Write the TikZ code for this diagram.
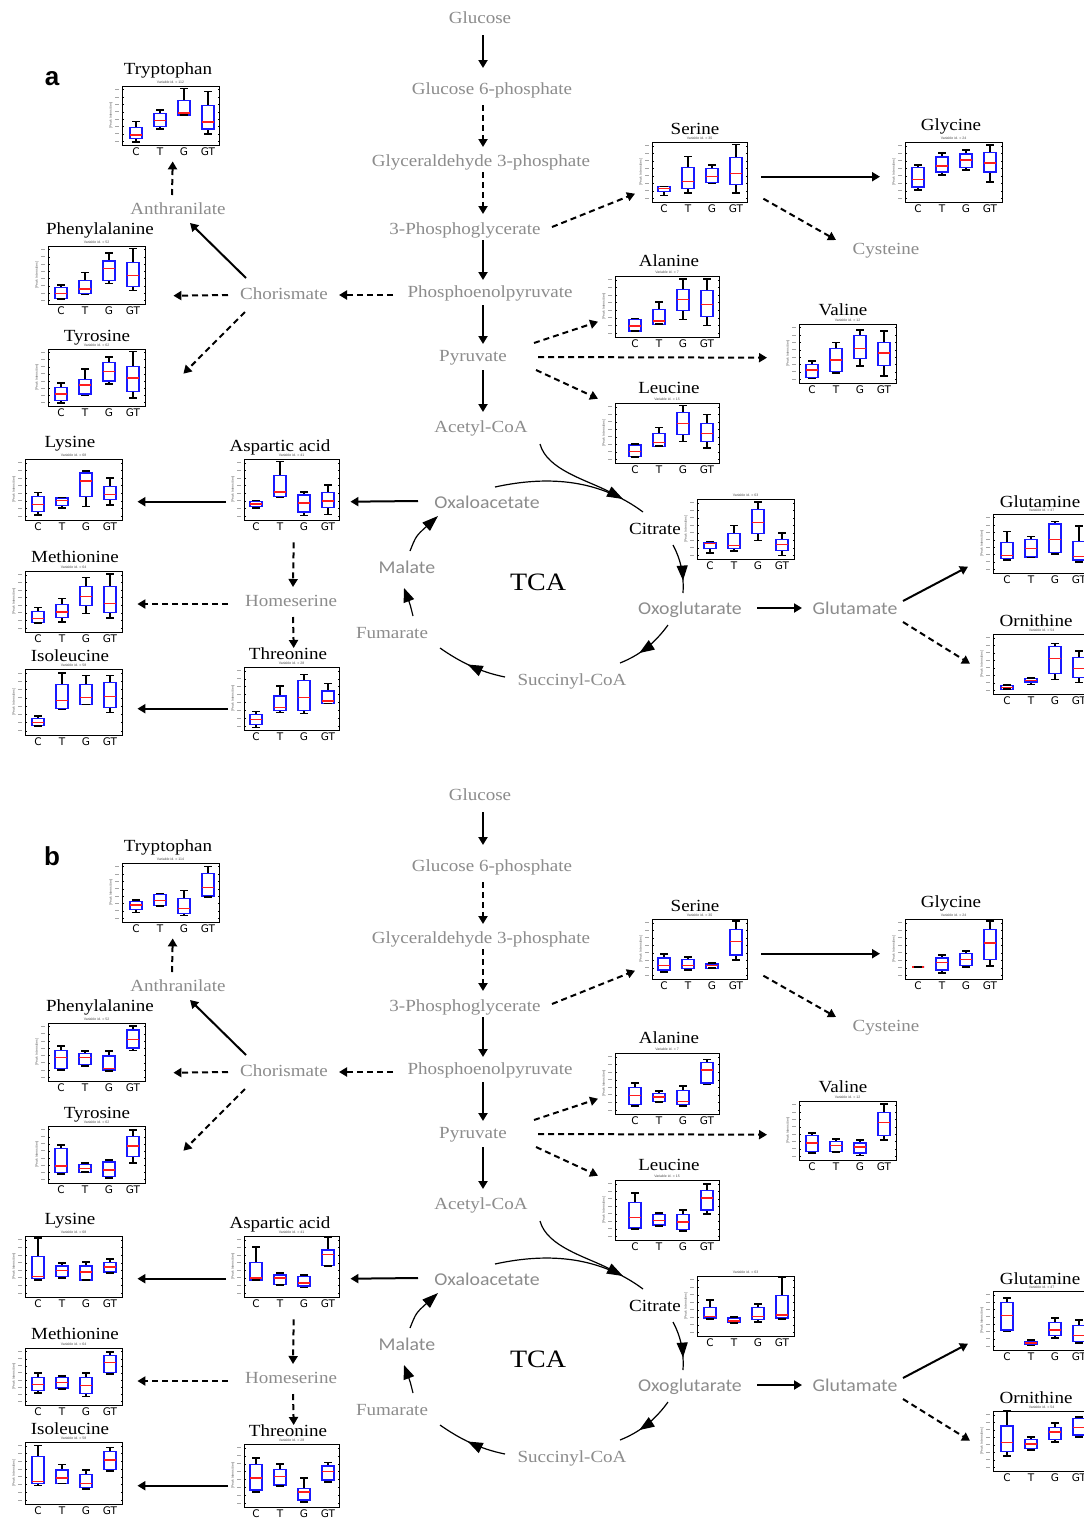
\documentclass[tikz,border=0pt]{standalone}
\usepackage{fontspec}
\setmainfont{Liberation Serif}
\newfontfamily\labfont[FakeStretch=1.12]{Liberation Serif}
\newfontfamily\labsans[FakeStretch=1.1]{Carlito}
\newfontfamily\axfont{DejaVu Sans}
\newfontfamily\helv{Liberation Sans}
\usetikzlibrary{arrows.meta,calc,decorations.markings}
\definecolor{labgray}{RGB}{140,140,140}
\definecolor{boxblue}{RGB}{25,25,255}
\definecolor{medred}{RGB}{255,30,30}
\tikzset{
  met/.style={font={\labfont\fontsize{17}{20}\selectfont}, text=labgray, inner sep=0pt, text height=16pt, text depth=3pt},
  mets/.style={font={\labsans\fontsize{18}{20}\selectfont}, text=labgray, inner sep=0pt, text height=16pt, text depth=3pt},
  ttl/.style={font={\labfont\fontsize{17}{20}\selectfont}, text=black, inner sep=0pt, text height=16pt, text depth=3pt},
  tcal/.style={font={\labfont\fontsize{25}{28}\selectfont}, text=black, inner sep=0pt},
  panlab/.style={font={\helv\bfseries\fontsize{26}{28}\selectfont}, inner sep=0pt},
  arr/.style={line width=2pt, -{Triangle[length=8pt,width=9pt]}},
  darr/.style={arr, dash pattern=on 6pt off 4pt},
  tca/.style={line width=1.2pt},
  tcamid/.style={postaction={decorate}, decoration={markings, mark=at position #1 with {\arrow{Triangle[length=15pt,width=11pt]}}}},
  chartframe/.style={draw, line width=1.4pt, inner sep=0pt},
  tickl/.style={line width=1pt, black!35},
  tickm/.style={line width=.4pt, black},
  ylab/.style={font={\helv\fontsize{3.5}{4}\selectfont}, text=black!60, rotate=90, inner sep=0pt},
  vid/.style={font={\helv\fontsize{3.5}{4}\selectfont}, text=black!70, inner sep=0pt},
  axl/.style={font={\axfont\fontsize{10.5}{11}\selectfont}, inner sep=0pt},
  whisk/.style={line width=1.5pt, black},
  bbox/.style={line width=1.2pt, boxblue},
  medl/.style={line width=1.3pt, medred}
}
% #1 name, #2 L, #3 T, #4 R, #5 B, #6 first box centre, #7 id, #8 data
\newcommand{\boxchart}[8]{%
  \pgfmathsetmacro\bpw{#4-#2}%
  \pgfmathsetmacro\bph{#5-#3}%
  \edef\bpdata{#8}%
  \node[chartframe, minimum width={\bpw*1pt}, minimum height={\bph*1pt}, anchor=north west] (#1) at (#2,#3) {};
  \foreach \ti in {1,...,8}{%
    \pgfmathsetmacro\bpty{#5-(\ti-0.5)*\bph/8}%
    \draw[tickl] ({#2-7},\bpty) -- ({#2-3},\bpty);
    \draw[tickm] (#2,\bpty) -- ({#2+1.5},\bpty);
    \draw[tickm] (#4,\bpty) -- ({#4-1.5},\bpty);
  }
  \node[ylab] (#1yl) at ({#2-11},{(#3+#5)/2}) {[Peak Intensities]};
  \node[vid] (#1vid) at ({(#2+#4)/2},{#3-3.5}) {Variable id. = #7};
  \foreach \pA/\pB/\pC/\pD/\pE [count=\k from 0] in \bpdata {%
    \pgfmathsetmacro\xx{#6+24*\k}%
    \pgfmathsetmacro\yA{#5-\pA*\bph}%
    \pgfmathsetmacro\yB{#5-\pB*\bph}%
    \pgfmathsetmacro\yC{#5-\pC*\bph}%
    \pgfmathsetmacro\yD{#5-\pD*\bph}%
    \pgfmathsetmacro\yE{#5-\pE*\bph}%
    \draw[whisk] (\xx,\yA) -- (\xx,\yB);
    \draw[whisk] (\xx,\yD) -- (\xx,\yE);
    \draw[bbox] ({\xx-6},\yB) rectangle ({\xx+6},\yD);
    \draw[medl] ({\xx-6},\yC) -- ({\xx+6},\yC);
    \draw[whisk] ({\xx-4},\yA) -- ({\xx+4},\yA);
    \draw[whisk] ({\xx-4},\yE) -- ({\xx+4},\yE);
    \node[axl] (#1l\k) at (\xx,{#5+7}) {\ifcase\k C\or T\or G\or GT\fi};
  }%
}
% panel a data
\def\Datrp{.05/.11/.17/.30/.40, .27/.31/.42/.54/.59, .51/.51/.54/.75/.96, .19/.27/.39/.67/.91}
\def\Daser{.11/.17/.23/.26/.26, .15/.22/.34/.58/.76, .31/.33/.42/.56/.62, .15/.29/.48/.74/.96}
\def\Dagly{.20/.25/.37/.57/.62, .45/.50/.60/.75/.82, .53/.57/.70/.80/.87, .33/.50/.65/.83/.95}
\def\Daphe{.09/.09/.18/.28/.33, .16/.18/.26/.40/.54, .35/.40/.61/.74/.88, .23/.30/.49/.72/.96}
\def\Datyr{.05/.09/.21/.32/.40, .18/.21/.37/.47/.65, .39/.44/.60/.77/.86, .14/.26/.49/.70/.96}
\def\Daala{.10/.10/.18/.29/.30, .21/.21/.26/.45/.57, .29/.44/.62/.78/.95, .19/.33/.53/.76/.95}
\def\Daval{.08/.10/.22/.31/.37, .17/.20/.39/.58/.69, .29/.42/.59/.80/.90, .12/.29/.51/.69/.88}
\def\Daleu{.10/.11/.19/.30/.32, .28/.28/.34/.49/.59, .36/.47/.66/.84/.96, .25/.36/.49/.66/.81}
\def\Dalys{.08/.14/.25/.38/.45, .20/.24/.32/.36/.37, .22/.38/.64/.77/.80, .25/.33/.42/.55/.69}
\def\Damet{.15/.15/.22/.34/.40, .16/.24/.33/.45/.55, .30/.43/.58/.74/.89, .23/.32/.47/.74/.95}
\def\Daile{.14/.14/.19/.25/.29, .39/.40/.52/.77/.94, .46/.46/.57/.77/.90, .34/.42/.58/.79/.90}
\def\Daasp{.20/.22/.26/.30/.32, .37/.38/.46/.73/.96, .07/.13/.28/.41/.46, .09/.20/.31/.45/.57}
\def\Dathr{.04/.09/.17/.24/.29, .28/.31/.36/.54/.70, .26/.31/.52/.78/.88, .42/.42/.46/.62/.74}
\def\Dacitc{.10/.17/.26/.28/.29, .13/.17/.23/.42/.56, .31/.42/.61/.83/.95, .06/.14/.24/.33/.43}
\def\Dagln{.22/.24/.30/.52/.70, .26/.27/.42/.57/.62, .32/.35/.57/.83/.87, .19/.22/.28/.54/.80}
\def\Daorn{.08/.08/.11/.14/.15, .16/.20/.23/.26/.27, .24/.34/.59/.79/.84, .19/.28/.42/.61/.72}
% panel b data
\def\Dbtrp{.16/.21/.29/.35/.37, .27/.28/.37/.46/.48, .11/.15/.23/.40/.53, .42/.44/.58/.82/.94}
\def\Dbser{.12/.15/.23/.35/.42, .15/.17/.23/.32/.37, .18/.18/.22/.25/.27, .32/.40/.62/.82/.97}
\def\Dbgly{.20/.20/.20/.20/.20, .10/.15/.27/.35/.40, .20/.22/.33/.43/.47, .22/.32/.60/.83/.97}
\def\Dbphe{.19/.22/.40/.53/.60, .26/.29/.40/.47/.52, .17/.19/.22/.43/.52, .53/.57/.71/.88/.95}
\def\Dbtyr{.16/.18/.30/.61/.67, .19/.19/.26/.32/.35, .09/.12/.23/.37/.40, .35/.46/.65/.82/.93}
\def\Dbala{.13/.16/.30/.43/.51, .20/.21/.28/.34/.38, .13/.16/.21/.39/.46, .48/.51/.72/.84/.89}
\def\Dbval{.12/.14/.29/.42/.46, .14/.15/.25/.32/.36, .08/.12/.22/.29/.34, .34/.42/.64/.81/.95}
\def\Dbleu{.18/.20/.37/.63/.78, .23/.25/.33/.42/.45, .15/.18/.30/.43/.50, .43/.50/.70/.83/.93}
\def\Dblys{.28/.31/.34/.66/.97, .31/.34/.44/.51/.56, .28/.28/.41/.51/.57, .39/.41/.49/.57/.62}
\def\Dbmet{.21/.25/.36/.48/.56, .28/.30/.39/.48/.51, .15/.20/.34/.48/.56, .54/.57/.75/.87/.93}
\def\Dbile{.30/.33/.36/.76/.94, .33/.33/.42/.55/.64, .24/.27/.33/.48/.55, .53/.56/.71/.85/.91}
\def\Dbasp{.28/.28/.31/.57/.82, .20/.21/.31/.36/.39, .16/.18/.23/.33/.36, .51/.52/.70/.77/.98}
\def\Dbthr{.24/.27/.46/.67/.78, .33/.35/.48/.59/.68, .08/.11/.24/.30/.46, .40/.43/.56/.65/.71}
\def\Dbcitc{.28/.30/.33/.48/.60, .22/.22/.25/.30/.32, .23/.27/.33/.48/.53, .28/.30/.35/.67/.98}
\def\Dbgln{.31/.34/.58/.81/.88, .08/.10/.12/.15/.17, .20/.24/.34/.46/.54, .12/.15/.25/.41/.51}
\def\Dborn{.25/.32/.48/.75/1.0, .35/.38/.45/.52/.57, .48/.52/.65/.72/.80, .57/.60/.73/.87/.90}
% per-panel positions of the Methionine / Isoleucine charts
\def\Yametb{632}\def\Ybmetb{628}
\def\Yailet{669}\def\Ybilet{665}
\def\Yaileb{735}\def\Ybileb{727}
\def\Yailett{655}\def\Ybilett{651}

\newcommand{\drawpanel}[2]{%
  % metabolites
  \node[met] (#1glc) at (480,17) {Glucose};
  \node[met] (#1g6p) at (492,88) {Glucose 6-phosphate};
  \node[met] (#1gap) at (481,160) {Glyceraldehyde 3-phosphate};
  \node[met] (#1pga) at (465,228) {3-Phosphoglycerate};
  \node[met] (#1pep) at (490,291) {Phosphoenolpyruvate};
  \node[met] (#1pyr) at (473,355) {Pyruvate};
  \node[met] (#1aca) at (481,426) {Acetyl-CoA};
  \node[met] (#1cys) at (886,248) {Cysteine};
  \node[met] (#1cho) at (284,293) {Chorismate};
  \node[met] (#1ant) at (178,208) {Anthranilate};
  \node[mets] (#1oaa) at (487,502) {Oxaloacetate};
  \node[met] (#1hom) at (291,600) {Homeserine};
  \node[ttl] (#1cit) at (655,528) {Citrate};
  \node[mets] (#1oxo) at (690,608) {Oxoglutarate};
  \node[mets] (#1glu) at (855,608) {Glutamate};
  \node[met] (#1suc) at (572,679) {Succinyl-CoA};
  \node[met] (#1fum) at (392,632) {Fumarate};
  \node[mets] (#1mal) at (407,567) {Malate};
  \node[tcal] (#1tca) at (538,582) {TCA};
  % charts
  \boxchart{#1trp}{122}{86}{219}{145}{136}{#2}{\csname D#1trp\endcsname}
  \boxchart{#1ser}{652}{142}{747}{202}{664}{30}{\csname D#1ser\endcsname}
  \boxchart{#1gly}{905}{142}{1002}{202}{918}{24}{\csname D#1gly\endcsname}
  \boxchart{#1phe}{48}{246}{145}{304}{61}{52}{\csname D#1phe\endcsname}
  \boxchart{#1tyr}{48}{349}{145}{406}{61}{62}{\csname D#1tyr\endcsname}
  \boxchart{#1ala}{615}{276}{719}{337}{635}{7}{\csname D#1ala\endcsname}
  \boxchart{#1val}{799}{324}{896}{383}{812}{12}{\csname D#1val\endcsname}
  \boxchart{#1leu}{615}{403}{719}{463}{635}{15}{\csname D#1leu\endcsname}
  \boxchart{#1lys}{25}{459}{122}{520}{38}{68}{\csname D#1lys\endcsname}
  \boxchart{#1met}{25}{571}{122}{\csname Y#1metb\endcsname}{38}{64}{\csname D#1met\endcsname}
  \boxchart{#1ile}{25}{\csname Y#1ilet\endcsname}{122}{\csname Y#1ileb\endcsname}{38}{58}{\csname D#1ile\endcsname}
  \boxchart{#1asp}{244}{459}{339}{520}{256}{41}{\csname D#1asp\endcsname}
  \boxchart{#1thr}{244}{667}{339}{730}{256}{28}{\csname D#1thr\endcsname}
  \boxchart{#1citc}{697}{499}{794}{559}{710}{63}{\csname D#1citc\endcsname}
  \boxchart{#1gln}{993}{514}{1090}{573}{1007}{47}{\csname D#1gln\endcsname}
  \boxchart{#1orn}{993}{634}{1090}{694}{1007}{54}{\csname D#1orn\endcsname}
  % chart titles
  \node[ttl] (#1trpT) at (168,68) {Tryptophan};
  \node[ttl] (#1serT) at (695,128) {Serine};
  \node[ttl] (#1glyT) at (951,124) {Glycine};
  \node[ttl] (#1pheT) at (100,228) {Phenylalanine};
  \node[ttl] (#1tyrT) at (97,335) {Tyrosine};
  \node[ttl] (#1alaT) at (669,260) {Alanine};
  \node[ttl] (#1valT) at (843,309) {Valine};
  \node[ttl] (#1leuT) at (669,387) {Leucine};
  \node[ttl] (#1lysT) at (70,441) {Lysine};
  \node[ttl] (#1metT) at (75,556) {Methionine};
  \node[ttl] (#1ileT) at (70,\csname Y#1ilett\endcsname) {Isoleucine};
  \node[ttl] (#1aspT) at (280,445) {Aspartic acid};
  \node[ttl] (#1thrT) at (288,653) {Threonine};
  \node[ttl] (#1glnT) at (1040,501) {Glutamine};
  \node[ttl] (#1ornT) at (1036,620) {Ornithine};
  % main pathway
  \draw[arr] ($(#1glc)+(3,18)$) -- ($(#1g6p)+(-9,-20)$);
  \draw[darr] ($(#1g6p)+(-9,17)$) -- ($(#1gap)+(2,-13)$);
  \draw[darr] ($(#1gap)+(2,12)$) -- ($(#1pga)+(18,-14)$);
  \draw[arr] ($(#1pga)+(18,12)$) -- ($(#1pep)+(-7,-11)$);
  \draw[arr] ($(#1pep)+(-7,14)$) -- ($(#1pyr)+(10,-11)$);
  \draw[arr] ($(#1pyr)+(10,15)$) -- ($(#1aca)+(2,-14)$);
  \draw[darr] ($(#1pga)+(87,-1)$) -- ($(#1ser.west)+(-17,21)$);
  \draw[arr] ($(#1ser.east)+(13,4)$) -- ($(#1gly.west)+(-25,4)$);
  \draw[darr] ($(#1ser.east)+(15,26)$) -- ($(#1cys)+(-50,-8)$);
  \draw[darr] ($(#1pyr)+(61,-12)$) -- ($(#1ala.west)+(-17,14.5)$);
  \draw[darr] ($(#1pyr)+(65,2)$) -- ($(#1val.west)+(-32,3.5)$);
  \draw[darr] ($(#1pyr)+(63,15)$) -- ($(#1leu.west)+(-17,-35)$);
  \draw[darr] ($(#1pep)+(-97,4)$) -- ($(#1cho)+(55,2)$);
  \draw[darr] ($(#1cho)+(-56,2)$) -- ($(#1phe.east)+(27,20)$);
  \draw[arr] ($(#1cho)+(-38,-15)$) -- ($(#1ant)+(12,15)$);
  \draw[darr] ($(#1ant)+(-6,-13)$) -- ($(#1trp.south)+(1.5,15)$);
  \draw[darr] ($(#1cho)+(-39,19)$) -- ($(#1tyr.east)+(37,-4.5)$);
  \draw[arr] ($(#1oaa)+(-69,-1)$) -- ($(#1asp.east)+(10,11.5)$);
  \draw[arr] ($(#1asp.west)+(-18,11.5)$) -- ($(#1lys.east)+(14,11.5)$);
  \draw[darr] ($(#1asp.south)+(1.5,21)$) -- ($(#1hom)+(2,-13)$);
  \draw[darr] ($(#1hom)+(-63,4)$) -- ($(#1met.east|-#1hom)+(14,4)$);
  \draw[darr] ($(#1hom)+(2,17)$) -- ($(#1thr.north)+(1.5,-19)$);
  \draw[arr] ($(#1thr.west)+(-16,9.5)$) -- ($(#1ile.east|-#1thr.west)+(14,9.5)$);
  \draw[arr] ($(#1oxo)+(67,0)$) -- ($(#1glu)+(-53,0)$);
  \draw[arr] ($(#1glu)+(48,-7)$) -- ($(#1gln.west)+(-25,22.5)$);
  \draw[darr] ($(#1glu)+(48,14)$) -- ($(#1orn.west)+(-23,-1)$);
  % TCA cycle
  \draw[tca] ($(#1oaa)+(8,-15)$) .. controls ($(#1tca)+(12,-107)$) and ($(#1tca)+(62,-102)$) .. ($(#1cit)+(-12,-16)$);
  \draw[tca,-{Triangle[length=16pt,width=11pt]}] ($(#1aca)+(59,18)$) .. controls ($(#1tca)+(9,-112)$) and ($(#1tca)+(49,-102)$) .. ($(#1cit)+(-32,-29)$);
  \draw[tca,tcamid=.75] ($(#1cit)+(18,17)$) .. controls ($(#1tca)+(143,-22)$) and ($(#1tca)+(146,-7)$) .. ($(#1oxo)+(-7,-15)$);
  \draw[tca,tcamid=.65] ($(#1oxo)+(-22,17)$) .. controls ($(#1tca)+(117,61)$) and ($(#1tca)+(102,73)$) .. ($(#1suc)+(48,-16)$);
  \draw[tca,tcamid=.55] ($(#1suc)+(-67,-2)$) .. controls ($(#1tca)+(-58,90)$) and ($(#1tca)+(-78,80)$) .. ($(#1fum)+(48,16)$);
  \draw[tca,-{Triangle[length=14pt,width=11pt]}] ($(#1fum)+(21,-16)$) .. controls ($(#1tca)+(-128,22)$) .. ($(#1mal)+(-3,21)$);
  \draw[tca,-{Triangle[length=16pt,width=11pt]}] ($(#1mal)+(3,-16)$) .. controls ($(#1tca)+(-122,-46)$) .. ($(#1oaa)+(-49,14)$);
}

\begin{document}
\begin{tikzpicture}[x=1pt,y=-1pt]
  \useasboundingbox (0,0) rectangle (1084,1518);
  \fill[white] (0,0) rectangle (1084,1518);
  \clip (0,0) rectangle (1084,1518);
  \node[panlab] (panA) at (52,79) {a};
  \drawpanel{a}{112}
  \begin{scope}[shift={(0,777)}]
    \node[panlab] (panB) at (52,79) {b};
    \drawpanel{b}{114}
  \end{scope}
\end{tikzpicture}
\end{document}
